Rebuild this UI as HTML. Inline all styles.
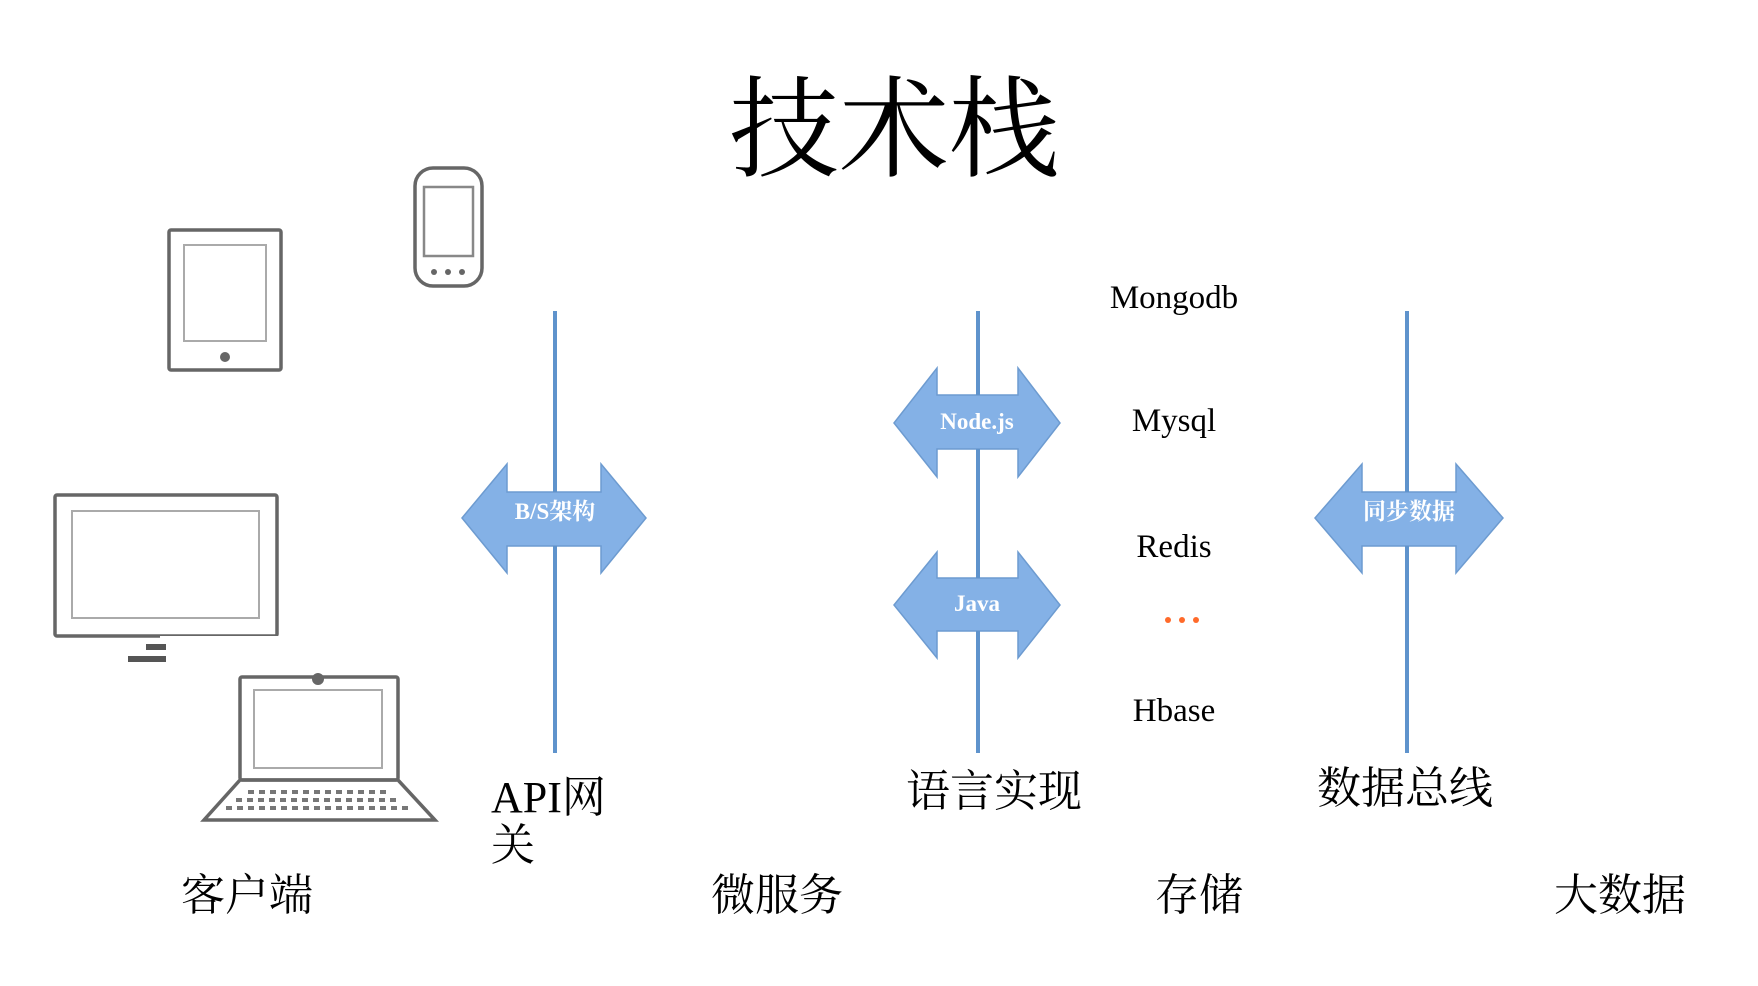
<!DOCTYPE html>
<html><head><meta charset="utf-8"><style>
html,body{margin:0;padding:0;background:#fff}
body{width:1758px;height:986px;position:relative;overflow:hidden;font-family:"Liberation Serif","Noto Serif CJK SC",serif}
svg{position:absolute;left:0;top:0}
.t{position:absolute;white-space:nowrap;color:#000;line-height:1}
</style></head><body>
<svg width="1758" height="986" viewBox="0 0 1758 986">
<g fill="none" stroke="#666" stroke-width="3.5">
 <rect x="169" y="230" width="112" height="140" rx="2"/>
 <rect x="184" y="245" width="82" height="96" stroke="#aaa" stroke-width="2"/>
 <rect x="415" y="168" width="67" height="118" rx="18"/>
 <rect x="424" y="187" width="49" height="69" stroke="#888" stroke-width="2.5"/>
 <rect x="55" y="495" width="222" height="141" rx="2"/>
 <rect x="72" y="511" width="187" height="107" stroke="#aaa" stroke-width="2"/>
 <rect x="240" y="677" width="158" height="103" rx="2"/>
 <rect x="254" y="690" width="128" height="78" stroke="#aaa" stroke-width="2"/>
 <path d="M240 780 L398 780 L435 820 L204 820 Z"/>
</g>
<rect x="160" y="636" width="120" height="30" fill="#fff"/>
<rect x="146" y="644" width="20" height="6" fill="#555"/>
<rect x="128" y="656" width="38" height="6" fill="#555"/>
<g fill="#666"><circle cx="225" cy="357" r="5"/><circle cx="434" cy="272" r="3"/><circle cx="448" cy="272" r="3"/><circle cx="462" cy="272" r="3"/><circle cx="318" cy="679" r="6"/></g>
<g stroke="#777" stroke-width="4" stroke-dasharray="6 5"><line x1="248" y1="792" x2="388" y2="792"/><line x1="236" y1="800" x2="400" y2="800"/><line x1="226" y1="808" x2="410" y2="808"/></g>
<g stroke="#5f93cc" stroke-width="4">
 <line x1="555" y1="311" x2="555" y2="753"/>
 <line x1="978" y1="311" x2="978" y2="753"/>
 <line x1="1407" y1="311" x2="1407" y2="753"/>
</g>
<g fill="#84b1e6" stroke="#6d9bd0" stroke-width="1.5">
 <path d="M462 518 L507 464 L507 492 L601 492 L601 464 L646 518 L601 573 L601 546 L507 546 L507 573 Z"/>
 <path d="M894 423 L937 368 L937 395 L1018 395 L1018 368 L1060 423 L1018 477 L1018 449 L937 449 L937 477 Z"/>
 <path d="M894 605 L937 552 L937 578 L1018 578 L1018 552 L1060 605 L1018 658 L1018 631 L937 631 L937 658 Z"/>
 <path d="M1315 518 L1362 464 L1362 492 L1456 492 L1456 464 L1503 518 L1456 573 L1456 546 L1362 546 L1362 573 Z"/>
</g>
<g stroke="#5f93cc" stroke-width="4">
 <line x1="555" y1="464" x2="555" y2="492"/><line x1="555" y1="546" x2="555" y2="573"/>
 <line x1="978" y1="368" x2="978" y2="395"/><line x1="978" y1="449" x2="978" y2="578"/><line x1="978" y1="631" x2="978" y2="658"/>
 <line x1="1407" y1="464" x2="1407" y2="492"/><line x1="1407" y1="546" x2="1407" y2="573"/>
</g>
<g fill="#ff6a2a"><circle cx="1168" cy="620" r="3"/><circle cx="1182" cy="620" r="3"/><circle cx="1196" cy="620" r="3"/></g>
</svg>
<div class="t" style="left:729px;top:76px;font-size:110px">技术栈</div>
<div class="t" style="left:485px;top:500px;width:140px;text-align:center;color:#fff;font-size:23px;font-weight:bold">B/S架构</div>
<div class="t" style="left:904px;top:410px;width:146px;text-align:center;color:#fff;font-size:23px;font-weight:bold">Node.js</div>
<div class="t" style="left:904px;top:592px;width:146px;text-align:center;color:#fff;font-size:23px;font-weight:bold">Java</div>
<div class="t" style="left:1339px;top:500px;width:140px;text-align:center;color:#fff;font-size:23px;font-weight:bold">同步数据</div>
<div class="t" style="left:1074px;top:282px;width:200px;text-align:center;font-size:33px">Mongodb</div>
<div class="t" style="left:1074px;top:405px;width:200px;text-align:center;font-size:33px">Mysql</div>
<div class="t" style="left:1074px;top:531px;width:200px;text-align:center;font-size:33px">Redis</div>
<div class="t" style="left:1074px;top:695px;width:200px;text-align:center;font-size:33px">Hbase</div>
<div class="t" style="left:491px;top:774px;font-size:44px;line-height:48px">API网<br>关</div>
<div class="t" style="left:906px;top:770px;font-size:44px">语言实现</div>
<div class="t" style="left:1317px;top:767px;font-size:44px">数据总线</div>
<div class="t" style="left:181px;top:874px;font-size:44px">客户端</div>
<div class="t" style="left:711px;top:874px;font-size:44px">微服务</div>
<div class="t" style="left:1155px;top:874px;font-size:44px">存储</div>
<div class="t" style="left:1554px;top:874px;font-size:44px">大数据</div>
</body></html>
